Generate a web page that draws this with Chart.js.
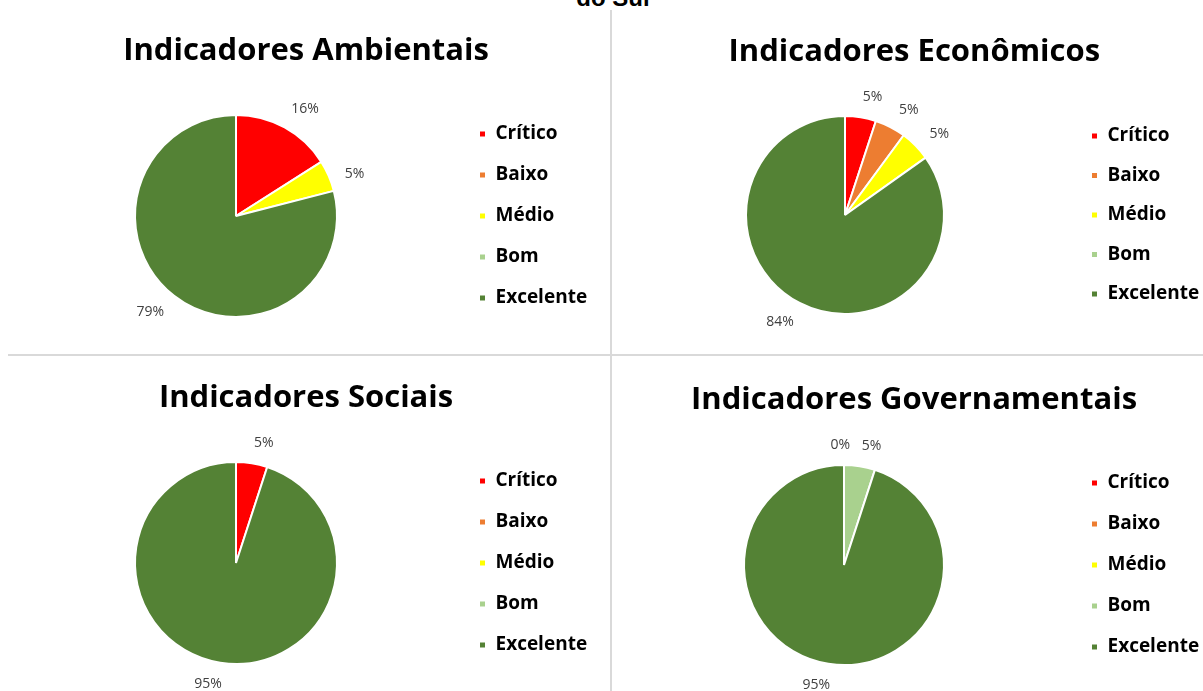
<!DOCTYPE html>
<html>
<head>
<meta charset="utf-8">
<script src="https://cdn.jsdelivr.net/npm/chart.js@4.4.1/dist/chart.umd.min.js"></script>
<style>
  body { margin: 0; background: #fff; width: 1203px; height: 691px; overflow: hidden; position: relative; font-family: "Open Sans", sans-serif; }
  .panel { position: absolute; }
  .sep { position: absolute; background: #d9d9d9; }
  #supertitle { position: absolute; left: 0; width: 1226px; top: -16px; text-align: center; font: bold 24px "Liberation Sans", Arial, sans-serif; color: #000; }
</style>
</head>
<body>
<div id="supertitle">do Sul</div>
<div class="sep" style="left:610px; top:10px; width:2px; height:681px;"></div>
<div class="sep" style="left:8px; top:354px; width:1195px; height:2px;"></div>

<div class="panel" style="left:0; top:0;"><canvas id="c1" width="610" height="354"></canvas></div>
<div class="panel" style="left:612px; top:0;"><canvas id="c2" width="591" height="354"></canvas></div>
<div class="panel" style="left:0; top:357px;"><canvas id="c3" width="610" height="334"></canvas></div>
<div class="panel" style="left:612px; top:357px;"><canvas id="c4" width="591" height="334"></canvas></div>

<script>
// categories and values (percent); null = no value in the sheet
const categories = ['Crítico', 'Baixo', 'Médio', 'Bom', 'Excelente'];
const ambientais = [16, null, 5, null, 79];
const economicos = [5, 5, 5, null, 84];
const sociais = [5, null, null, null, 95];
const governamentais = [null, null, 0, 5, 95];
const titles = ['Indicadores Ambientais', 'Indicadores Econômicos', 'Indicadores Sociais', 'Indicadores Governamentais'];
const colors = ['#FF0000', '#ED7D31', '#FFFF00', '#A9D18E', '#548235'];

const legendFont = { family: 'Open Sans', size: 19, weight: 'bold' };
const boxSize = 7;

// measure the widest legend label so the legend can be placed
const mctx = document.createElement('canvas').getContext('2d');
mctx.font = 'bold 19px "Open Sans"';
const maxLabelW = Math.max(...categories.map(c => mctx.measureText(c).width));

// outside percentage labels: the label box sits a small gap outside the rim
const pctLabels = {
  id: 'pctLabels',
  afterDatasetsDraw(chart) {
    const ctx = chart.ctx;
    const ds = chart.data.datasets[0];
    const meta = chart.getDatasetMeta(0);
    ctx.save();
    ctx.font = '14px "Open Sans"';
    ctx.fillStyle = '#404040';
    ctx.textAlign = 'center';
    ctx.textBaseline = 'middle';
    meta.data.forEach((arc, i) => {
      const v = ds.data[i];
      if (v === null || v === undefined) return;
      const txt = v + '%';
      const p = arc.getProps(['x', 'y', 'startAngle', 'endAngle', 'outerRadius'], true);
      const shift = v === 0 ? -0.03 : 0.07;
      const a = (p.startAngle + p.endAngle) / 2 + shift;
      const w = ctx.measureText(txt).width;
      const ext = Math.abs(Math.cos(a)) * w / 2 + Math.abs(Math.sin(a)) * 7;
      const d = p.outerRadius + 13 + ext;
      ctx.fillText(txt, p.x + Math.cos(a) * d, p.y + Math.sin(a) * d);
    });
    ctx.restore();
  }
};

function makeChart(id, title, values, lay) {
  const W = document.getElementById(id).width;
  const itemW = boxSize + legendFont.size / 2 + maxLabelW;
  const legendLeft = lay.squareX - lay.legendPad;
  const legendW = lay.legendPad + itemW + 10;
  const padR = W - legendLeft - legendW;
  const padL = 2 * lay.cx - legendLeft;

  return new Chart(document.getElementById(id), {
    type: 'pie',
    data: {
      labels: categories,
      datasets: [{
        data: values,
        backgroundColor: colors,
        borderColor: '#ffffff',
        borderWidth: 2,
        radius: lay.r
      }]
    },
    options: {
      responsive: false,
      animation: false,
      layout: { padding: { left: padL, right: padR, top: 0, bottom: lay.padBottom } },
      plugins: {
        title: {
          display: true,
          text: title,
          color: '#000000',
          font: { family: 'Open Sans', size: 31, weight: 'bold', lineHeight: 1.2 },
          padding: { top: lay.titleTop, bottom: lay.titleBottom }
        },
        legend: {
          position: 'right',
          fullSize: false,
          labels: {
            boxWidth: boxSize,
            boxHeight: boxSize,
            padding: lay.legendPad,
            color: '#000000',
            font: legendFont
          }
        },
        tooltip: { enabled: false }
      }
    },
    plugins: [pctLabels]
  });
}

makeChart('c1', titles[0], ambientais, { cx: 236, r: 101, squareX: 479, legendPad: 22, titleTop: 33, titleBottom: 25.8, padBottom: 18 });
makeChart('c2', titles[1], economicos, { cx: 233, r: 99, squareX: 479, legendPad: 20.5, titleTop: 34, titleBottom: 23.8, padBottom: 19 });
makeChart('c3', titles[2], sociais, { cx: 236, r: 101, squareX: 479, legendPad: 22, titleTop: 23, titleBottom: 25.8, padBottom: 8 });
makeChart('c4', titles[3], governamentais, { cx: 232, r: 100, squareX: 479, legendPad: 22, titleTop: 25, titleBottom: 25.8, padBottom: 6 });
</script>
</body>
</html>
